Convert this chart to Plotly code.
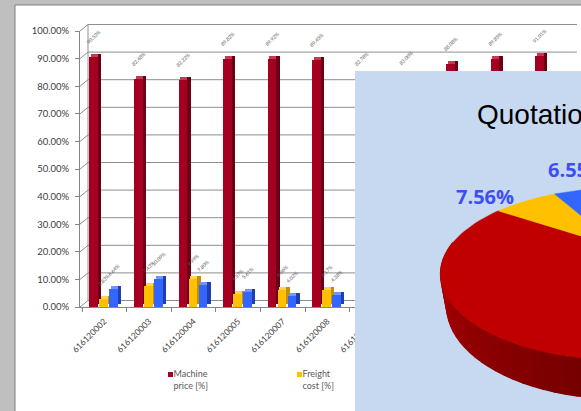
import math
import numpy as np
import plotly.graph_objects as go

# ---------------- data ----------------
categories = ["616120002", "616120003", "616120004", "616120005", "616120007", "616120008",
              "616120009", "616120010", "616120011", "616120012", "616120013"]
machine_price = [0.9053, 0.8248, 0.8222, 0.8982, 0.8992, 0.8945, 0.8278, 0.8300, 0.8808, 0.8985, 0.9101]
freight_cost = [0.0283, 0.0743, 0.0999, 0.0457, 0.0606, 0.0617, 0.0850, 0.0920, 0.0650, 0.0560, 0.0450]
other_cost = [0.0664, 0.1009, 0.0780, 0.0561, 0.0402, 0.0438, 0.0872, 0.0780, 0.0542, 0.0455, 0.0449]
series_names = ["Machine<br>price [%]", "Freight<br>cost [%]", "Other<br>cost [%]"]
y_ticks = [i / 10 for i in range(11)]

pie_title = "Quotation summary"
pie_names = ["Machine price", "Freight cost", "Other cost"]
pie_values = [0.8589, 0.0756, 0.0655]

# ---------------- page geometry (pixels) ----------------
W, H = 581, 411
PLOT_L, PLOT_R = 80, 577          # front-left axis line .. right end of back wall
Y_ZERO, Y_TOP = 307, 31           # pixel rows of 0% and 100% on the front axis
CAT_PX = 44.6                     # pixels per category
X0 = -(104.3 - PLOT_L) / CAT_PX   # left end of category range
X1 = X0 + (PLOT_R - PLOT_L) / CAT_PX
WALL_DX, WALL_DY = 8, -6.5        # back-wall offset of the 3-D box


def xp(px):
    return px / W


def yp(py):
    return (H - py) / H


def y_px(v):
    return Y_ZERO - (Y_ZERO - Y_TOP) * v


GRID = "#8e8e8e"
AXIS = "#868686"
TXT = "#404040"

fig = go.Figure()

# ---------------- 3-D clustered columns ----------------
PITCH = 10 / CAT_PX
FACE = 8.6 / CAT_PX
DEPTH_X = 3.4 / CAT_PX
DEPTH_Y = 3 / (Y_ZERO - Y_TOP)
LABEL_GAP = 6 / (Y_ZERO - Y_TOP)
GROUP_L = -15 / CAT_PX

palette = [
    dict(front="#a50021", top="#c8384f", side="#6a0016"),
    dict(front="#ffc000", top="#ffd54f", side="#c48f00"),
    dict(front="#3366ff", top="#7294ff", side="#1f3fb0"),
]
xs = list(range(len(categories)))
for s, vals in enumerate([machine_price, freight_cost, other_cost]):
    c = palette[s]
    left = GROUP_L + s * PITCH
    tops = [v + DEPTH_Y for v in vals]
    fig.add_trace(go.Bar(x=xs, y=vals, offset=left, width=FACE,
                         marker=dict(color=c["front"], line=dict(width=0)),
                         cliponaxis=False, showlegend=False, hoverinfo="skip"))
    fig.add_trace(go.Bar(x=xs, y=[DEPTH_Y] * len(vals), base=vals,
                         offset=left + DEPTH_X / 2, width=FACE,
                         marker=dict(color=c["top"], line=dict(width=0)),
                         cliponaxis=False, showlegend=False, hoverinfo="skip"))
    fig.add_trace(go.Bar(x=xs, y=vals, base=[DEPTH_Y] * len(vals),
                         offset=left + FACE, width=DEPTH_X,
                         marker=dict(color=c["side"], line=dict(width=0)),
                         cliponaxis=False, showlegend=False, hoverinfo="skip"))
    # value labels, carried by a clear spacer above each column
    fig.add_trace(go.Bar(x=xs, y=[LABEL_GAP] * len(vals), base=tops,
                         offset=left, width=FACE,
                         marker=dict(color="rgba(0,0,0,0)", line=dict(width=0)),
                         text=[f"{v:.2%}" for v in vals], textposition="outside",
                         textangle=-45, constraintext="none",
                         textfont=dict(family="Lato", size=5, color="#595959"),
                         cliponaxis=False, showlegend=False, hoverinfo="skip"))

# ---------------- legend strip (own subplot, pixel units) ----------------
LEG_PX = [170.5, 299.5, 428.5]
LEG_PY = 374.5
for s, name in enumerate(series_names):
    fig.add_trace(go.Scatter(x=[LEG_PX[s]], y=[LEG_PY], xaxis="x2", yaxis="y2", mode="markers",
                             marker=dict(symbol="square", size=5, color=palette[s]["front"]),
                             showlegend=False, hoverinfo="skip"))
    fig.add_trace(go.Scatter(x=[LEG_PX[s] + 3], y=[LEG_PY + 6], xaxis="x2", yaxis="y2",
                             mode="text", text=[name], textposition="middle right",
                             textfont=dict(family="Lato", size=9, color="#595959"),
                             showlegend=False, hoverinfo="skip"))

# ---------------- box: chart area, side wall, back wall, gridlines ----------------
shapes = [dict(type="rect", xref="paper", yref="paper", layer="below",
               x0=xp(15), x1=xp(W + 5), y0=yp(5), y1=yp(H + 5),
               fillcolor="white", line=dict(color="#7f7f7f", width=1))]
for v in y_ticks:
    yf = y_px(v)
    yb = yf + WALL_DY
    shapes.append(dict(type="line", xref="paper", yref="paper", layer="below",
                       x0=xp(PLOT_L), y0=yp(yf), x1=xp(PLOT_L + WALL_DX), y1=yp(yb),
                       line=dict(color=GRID, width=1)))
    shapes.append(dict(type="line", xref="paper", yref="paper", layer="below",
                       x0=xp(PLOT_L + WALL_DX), y0=yp(yb), x1=xp(PLOT_R), y1=yp(yb),
                       line=dict(color=GRID, width=1)))
shapes.append(dict(type="line", xref="paper", yref="paper", layer="below",
                   x0=xp(PLOT_L + WALL_DX), y0=yp(y_px(0) + WALL_DY),
                   x1=xp(PLOT_L + WALL_DX), y1=yp(y_px(1) + WALL_DY),
                   line=dict(color=GRID, width=1)))

# ---------------- 3-D pie on its own panel ----------------
PANEL_L, PANEL_T = 355, 71
shapes.append(dict(type="rect", xref="x3", yref="y3", layer="below",
                   x0=PANEL_L, x1=W + 2, y0=PANEL_T, y1=H + 2,
                   fillcolor="#c6d9f0", line=dict(width=0)))

PIE_CX, PIE_CY, PIE_S = 620.6, 248.0, 171.7
PHI = math.asin(0.455)
DIST = math.cos(PHI) / 0.302
THICK = 0.21
START = 95.5
pie_colors = ["#c00000", "#ffc000", "#3366ff"]
pie_side_rgb = [(192, 0, 0), (255, 192, 0), (51, 102, 255)]


def project(r, theta_deg, height=0.0):
    t = math.radians(theta_deg)
    X, Z = r * math.cos(t), -r * math.sin(t)
    depth = DIST - (height * math.sin(PHI) + Z * math.cos(PHI))
    up = height * math.cos(PHI) - Z * math.sin(PHI)
    return PIE_CX + PIE_S * X * DIST / depth, PIE_CY - PIE_S * up * DIST / depth


cum = np.concatenate([[0.0], np.cumsum(pie_values)])
bounds = START - 360 * cum   # clockwise slices

# side walls first (front half only), shaded along the arc
for k in range(len(pie_values)):
    a0, a1 = bounds[k], bounds[k + 1]
    n = max(2, int(abs(a0 - a1) / 3) + 1)
    edges = np.linspace(a0, a1, n + 1)
    for i in range(n):
        e0, e1 = edges[i], edges[i + 1]
        mid = (e0 + e1) / 2
        if math.sin(math.radians(mid)) >= 0.05:
            continue
        f = ((mid % 360) - 180) / 180
        shade = max(0.5, min(0.9, 0.86 - 0.712 * (f - 0.11)))
        r_, g_, b_ = (int(ch * shade) for ch in pie_side_rgb[k])
        col = f"rgb({r_},{g_},{b_})"
        arc = np.linspace(e0, e1, 5)
        pts = [project(1, t) for t in arc] + [project(1, t, -THICK) for t in arc[::-1]]
        pts.append(pts[0])
        fig.add_trace(go.Scatter(x=[p[0] for p in pts], y=[p[1] for p in pts],
                                 xaxis="x3", yaxis="y3", mode="lines", fill="toself",
                                 fillcolor=col, line=dict(color=col, width=1.3),
                                 showlegend=False, hoverinfo="skip"))

# top faces
for k in range(len(pie_values)):
    arc = np.linspace(bounds[k], bounds[k + 1], 120)
    pts = [(PIE_CX, PIE_CY)] + [project(1, t) for t in arc] + [(PIE_CX, PIE_CY)]
    fig.add_trace(go.Scatter(x=[p[0] for p in pts], y=[p[1] for p in pts],
                             xaxis="x3", yaxis="y3", mode="lines", fill="toself",
                             fillcolor=pie_colors[k], line=dict(color=pie_colors[k], width=0.5),
                             name=pie_names[k], showlegend=False, hoverinfo="skip"))

annotations = [dict(xref="paper", yref="paper", x=xp(475), y=yp(114),
                    xanchor="left", yanchor="middle", showarrow=False, text=pie_title,
                    font=dict(family="Liberation Sans", size=28, color="black"))]
for k, v in enumerate(pie_values):
    mid = (bounds[k] + bounds[k + 1]) / 2
    lx, ly = project(1.12, mid)
    c, s_ = math.cos(math.radians(mid)), math.sin(math.radians(mid))
    xa = "right" if c < -0.5 else ("left" if c > 0.5 else "center")
    ya = "bottom" if s_ > 0.85 else ("top" if s_ < -0.85 else "middle")
    annotations.append(dict(xref="x3", yref="y3", x=lx, y=ly, xanchor=xa, yanchor=ya,
                            showarrow=False, text=f"<b>{v:.2%}</b>",
                            font=dict(family="Open Sans", size=20, color="#3d4ef5")))

fig.update_layout(
    width=W, height=H, margin=dict(l=0, r=0, t=0, b=0, pad=0, autoexpand=False),
    paper_bgcolor="#bfbfbf", plot_bgcolor="rgba(0,0,0,0)",
    barmode="overlay", bargap=0, showlegend=False,
    shapes=shapes, annotations=annotations,
    xaxis=dict(domain=[xp(PLOT_L), xp(PLOT_R)], range=[X0, X1], anchor="y",
               tickmode="array", tickvals=xs, ticktext=categories, tickangle=-45,
               ticks="", showgrid=False, zeroline=False, automargin=False,
               showline=True, linecolor=AXIS, linewidth=1, ticklabelstandoff=5,
               minor=dict(tickmode="array", tickvals=[k - 0.5 for k in range(len(xs) + 1)],
                          ticks="outside", ticklen=4, tickcolor=AXIS, showgrid=False),
               tickfont=dict(family="Lato", size=8.5, color=TXT)),
    yaxis=dict(domain=[yp(Y_ZERO), yp(Y_TOP)], range=[0, 1], anchor="x",
               tickmode="array", tickvals=y_ticks, tickformat=".2%", automargin=False,
               showgrid=False, zeroline=False, showline=True, linecolor=AXIS, linewidth=1,
               ticks="outside", ticklen=4, tickcolor=AXIS, ticklabelstandoff=4,
               tickfont=dict(family="Lato", size=9.5, color=TXT)),
    xaxis2=dict(domain=[xp(150), 1], range=[150, W], anchor="y2", visible=False),
    yaxis2=dict(domain=[yp(400), yp(360)], range=[400, 360], anchor="x2", visible=False),
    xaxis3=dict(domain=[xp(PANEL_L), 1], range=[PANEL_L, W], anchor="y3", visible=False),
    yaxis3=dict(domain=[0, yp(PANEL_T)], range=[H, PANEL_T], anchor="x3", visible=False),
)

fig.write_html("out.html")
